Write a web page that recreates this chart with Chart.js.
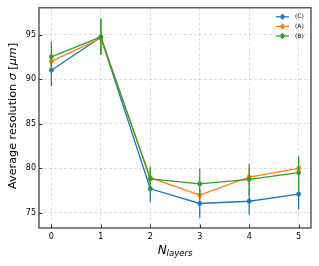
<!DOCTYPE html>
<html><head><meta charset="utf-8">
<script src="https://cdn.jsdelivr.net/npm/chart.js@4"></script>
<style>html,body{margin:0;padding:0;background:#fff}canvas{display:block}</style>
</head><body>
<canvas id="c" width="319" height="266"></canvas>
<script>
const categories = [0, 1, 2, 3, 4, 5];
const seriesNames = ['(C)', '(A)', '(B)'];
const valuesC = [91.0, 94.7, 77.7, 76.05, 76.3, 77.1];
const errorsC = [1.8, 2.0, 1.5, 1.6, 1.5, 1.7];
const valuesA = [92.0, 94.6, 78.95, 77.0, 79.0, 80.0];
const errorsA = [1.0, 1.6, 1.0, 0.5, 1.0, 1.0];
const valuesB = [92.5, 94.75, 78.8, 78.25, 78.75, 79.5];
const errorsB = [1.75, 2.05, 1.4, 1.7, 1.75, 1.85];
const xTicks = [0, 1, 2, 3, 4, 5];
const yTicks = [75, 80, 85, 90, 95];
const yTitleParts = [['Average resolution ', false], ['σ', true], [' [', false], ['μm', true], [']', false]];
const xTitleMain = 'N';
const xTitleSub = 'layers';

const colors = ['#1f77b4', '#ff7f0e', '#2ca02c'];
const allValues = [valuesC, valuesA, valuesB];
const allErrors = [errorsC, errorsA, errorsB];
const FONT = '"DejaVu Sans", sans-serif';

const datasets = seriesNames.map((name, i) => ({
  label: name,
  data: categories.map((x, j) => ({x: x, y: allValues[i][j]})),
  errors: allErrors[i],
  borderColor: colors[i],
  backgroundColor: colors[i],
  borderWidth: 1.3,
  pointRadius: 2.4,
  pointBorderWidth: 0,
  pointHoverRadius: 2.4,
  showLine: true,
  tension: 0,
  order: 2 - i
}));

const errorBarPlugin = {
  id: 'errbars',
  beforeDatasetDraw(chart, args) {
    const ds = chart.data.datasets[args.index];
    const xs = chart.scales.x, ys = chart.scales.y;
    const ctx = chart.ctx;
    ctx.save();
    ctx.strokeStyle = ds.borderColor;
    ctx.lineWidth = 1.3;
    ds.data.forEach((p, j) => {
      const px = xs.getPixelForValue(p.x);
      ctx.beginPath();
      ctx.moveTo(px, ys.getPixelForValue(p.y - ds.errors[j]));
      ctx.lineTo(px, ys.getPixelForValue(p.y + ds.errors[j]));
      ctx.stroke();
    });
    ctx.restore();
  }
};

const decorPlugin = {
  id: 'decor',
  afterDraw(chart) {
    const ctx = chart.ctx, a = chart.chartArea;
    const xs = chart.scales.x, ys = chart.scales.y;
    ctx.save();
    // frame
    ctx.strokeStyle = '#333';
    ctx.lineWidth = 1.2;
    ctx.strokeRect(a.left, a.top, a.right - a.left, a.bottom - a.top);
    // inward ticks
    ctx.lineWidth = 1;
    xTicks.forEach(v => {
      const px = Math.round(xs.getPixelForValue(v)) + 0.5;
      ctx.beginPath(); ctx.moveTo(px, a.bottom); ctx.lineTo(px, a.bottom - 3.5); ctx.stroke();
    });
    yTicks.forEach(v => {
      const py = Math.round(ys.getPixelForValue(v)) + 0.5;
      ctx.beginPath(); ctx.moveTo(a.left, py); ctx.lineTo(a.left + 3.5, py); ctx.stroke();
    });
    // y title
    ctx.fillStyle = '#000';
    ctx.textBaseline = 'middle';
    ctx.textAlign = 'left';
    const fs = 11.2;
    let total = 0;
    yTitleParts.forEach(([t, it]) => { ctx.font = (it ? 'italic ' : '') + fs + 'px ' + FONT; total += ctx.measureText(t).width; });
    ctx.save();
    ctx.translate(13, (a.top + a.bottom) / 2 - 2);
    ctx.rotate(-Math.PI / 2);
    let cx = -total / 2;
    yTitleParts.forEach(([t, it]) => {
      ctx.font = (it ? 'italic ' : '') + fs + 'px ' + FONT;
      ctx.fillText(t, cx, 0);
      cx += ctx.measureText(t).width;
    });
    ctx.restore();
    // x title
    ctx.textBaseline = 'alphabetic';
    ctx.font = 'italic 12px ' + FONT;
    const wN = ctx.measureText(xTitleMain).width;
    ctx.font = 'italic 8.5px ' + FONT;
    const wS = ctx.measureText(xTitleSub).width;
    const startX = (a.left + a.right) / 2 - (wN + wS) / 2;
    const base = 253.5;
    ctx.font = 'italic 12px ' + FONT;
    ctx.fillText(xTitleMain, startX, base);
    ctx.font = 'italic 8.5px ' + FONT;
    ctx.fillText(xTitleSub, startX + wN, base + 2.5);
    // legend
    ctx.font = '6px ' + FONT;
    ctx.textBaseline = 'middle';
    chart.data.datasets.forEach((ds, i) => {
      const y = a.top + 9 + i * 9.6;
      const x0 = a.right - 35, x1 = a.right - 22, xm = (x0 + x1) / 2;
      ctx.strokeStyle = ds.borderColor;
      ctx.fillStyle = ds.borderColor;
      ctx.lineWidth = 1.3;
      ctx.beginPath(); ctx.moveTo(x0, y); ctx.lineTo(x1, y); ctx.stroke();
      ctx.beginPath(); ctx.moveTo(xm, y - 3); ctx.lineTo(xm, y + 3); ctx.stroke();
      ctx.beginPath(); ctx.arc(xm, y, 2.2, 0, Math.PI * 2); ctx.fill();
      ctx.fillStyle = '#000';
      ctx.fillText(ds.label, a.right - 16, y);
    });
    ctx.restore();
  }
};

new Chart(document.getElementById('c'), {
  type: 'scatter',
  data: {datasets: datasets},
  plugins: [errorBarPlugin, decorPlugin],
  options: {
    responsive: false,
    animation: false,
    events: [],
    layout: {padding: {top: 7, right: 8, left: 0, bottom: 0}},
    plugins: {legend: {display: false}, tooltip: {enabled: false}},
    scales: {
      x: {
        type: 'linear', min: -0.25, max: 5.25,
        afterBuildTicks(s) { s.ticks = xTicks.map(v => ({value: v})); },
        afterFit(s) { s.height = 38; },
        grid: {color: 'rgba(0,0,0,0.16)', lineWidth: 0.8, drawTicks: false},
        border: {display: false, dash: [3, 2]},
        ticks: {padding: 4, color: '#000', font: {family: FONT, size: 8}, maxRotation: 0}
      },
      y: {
        type: 'linear', min: 73.3, max: 98,
        afterBuildTicks(s) { s.ticks = yTicks.map(v => ({value: v})); },
        afterFit(s) { s.width = 39; },
        grid: {color: 'rgba(0,0,0,0.16)', lineWidth: 0.8, drawTicks: false},
        border: {display: false, dash: [3, 2]},
        ticks: {padding: 3, color: '#000', font: {family: FONT, size: 8}}
      }
    }
  }
});
</script>
</body></html>
